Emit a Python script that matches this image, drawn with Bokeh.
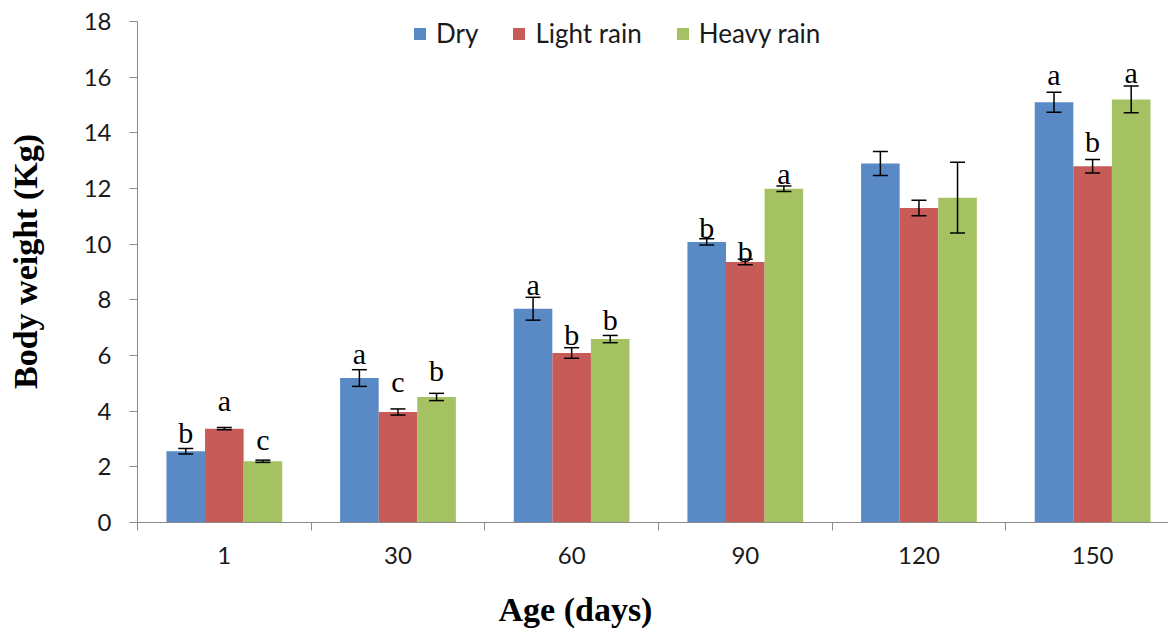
from bokeh.plotting import figure
from bokeh.models import (Range1d, FixedTicker, Whisker, TeeHead, ColumnDataSource,
                          Title, Legend, LegendItem)
from bokeh.core.properties import value
from bokeh.embed import file_html
from bokeh.resources import INLINE

# ---- data ----
ages = ["1", "30", "60", "90", "120", "150"]
series_names = ["Dry", "Light rain", "Heavy rain"]
dry = [2.56, 5.19, 7.68, 10.08, 12.90, 15.10]
dry_err = [0.10, 0.30, 0.41, 0.11, 0.43, 0.36]
light = [3.37, 3.97, 6.09, 9.36, 11.30, 12.80]
light_err = [0.04, 0.11, 0.19, 0.10, 0.28, 0.24]
heavy = [2.20, 4.51, 6.59, 11.99, 11.67, 15.20]
heavy_err = [0.04, 0.13, 0.13, 0.10, 1.27, 0.48]
dry_sig = ["b", "a", "a", "b", "", "a"]
light_sig = ["a", "c", "b", "b", "", "b"]
heavy_sig = ["c", "b", "b", "a", "", "a"]
dry_sig_y = [2.89, 5.71, 8.20, 10.23, 0, 15.73]
light_sig_y = [4.01, 4.69, 6.40, 9.39, 0, 13.34]
heavy_sig_y = [2.63, 5.11, 6.93, 12.19, 0, 15.82]
y_ticks = [0, 2, 4, 6, 8, 10, 12, 14, 16, 18]

colors = ["#5A8AC6", "#C65B57", "#A4C262"]
bar_w = 0.2222
offsets = [-bar_w, 0.0, bar_w]

p = figure(width=1168, height=632, output_backend="svg", toolbar_location=None,
           x_range=Range1d(0, 5.937), y_range=Range1d(0, 18.754),
           min_border_left=137, min_border_right=0, min_border_top=0,
           min_border_bottom=110)
p.outline_line_color = None
p.xgrid.visible = False
p.ygrid.visible = False
p.background_fill_color = "white"
p.border_fill_color = "white"

all_vals = [dry, light, heavy]
all_errs = [dry_err, light_err, heavy_err]
all_sig = [dry_sig, light_sig, heavy_sig]
all_sig_y = [dry_sig_y, light_sig_y, heavy_sig_y]

items = []
for k in range(3):
    xs = [i + 0.5 + offsets[k] for i in range(len(ages))]
    src = ColumnDataSource(dict(x=xs, top=all_vals[k],
                                upper=[v + e for v, e in zip(all_vals[k], all_errs[k])],
                                lower=[v - e for v, e in zip(all_vals[k], all_errs[k])]))
    r = p.vbar(x="x", top="top", width=bar_w, bottom=0, source=src,
               fill_color=colors[k], line_color=None)
    items.append(LegendItem(label=series_names[k], renderers=[r]))
    w = Whisker(source=src, base="x", upper="upper", lower="lower",
                line_color="black", line_width=1.5, level="annotation",
                upper_head=TeeHead(size=15, line_color="black", line_width=1.5),
                lower_head=TeeHead(size=15, line_color="black", line_width=1.5))
    p.add_layout(w)
    lx = [x for x, s in zip(xs, all_sig[k]) if s]
    ly = [y for y, s in zip(all_sig_y[k], all_sig[k]) if s]
    lt = [s for s in all_sig[k] if s]
    p.text(x=lx, y=ly, text=lt, text_align="center", text_baseline="alphabetic",
           y_offset=-10,
           text_font=value("Liberation Serif"), text_font_size="30px",
           text_color="black")

legend = Legend(items=items, orientation="horizontal", location=(275, 473),
                background_fill_alpha=0, border_line_color=None,
                glyph_width=15, glyph_height=15, label_standoff=9, spacing=33,
                padding=0, margin=0,
                label_text_font="Lato", label_text_font_size="26px",
                label_text_color="#1a1a1a")
p.add_layout(legend)

# y axis
ya = p.yaxis[0]
ya.bounds = (0, 18)
ya.ticker = FixedTicker(ticks=y_ticks, minor_ticks=[])
ya.axis_line_color = "#8c8c8c"
ya.major_tick_line_color = "#8c8c8c"
ya.major_tick_in = 0
ya.major_tick_out = 8
ya.minor_tick_line_color = None
ya.major_label_standoff = 18
ya.major_label_text_font = "Lato"
ya.major_label_text_font_size = "24px"
ya.major_label_text_color = "#1a1a1a"
ya.axis_label = "Body weight (Kg)"
ya.axis_label_text_font = "Liberation Serif"
ya.axis_label_text_font_style = "bold"
ya.axis_label_text_font_size = "34px"
ya.axis_label_text_color = "black"
ya.axis_label_standoff = 37

# x axis
xa = p.xaxis[0]
centers = [i + 0.5 for i in range(len(ages))]
xa.ticker = FixedTicker(ticks=centers, minor_ticks=list(range(len(ages) + 1)))
xa.major_label_overrides = {c: a for c, a in zip(centers, ages)}
xa.axis_line_color = "#8c8c8c"
xa.major_tick_line_color = None
xa.major_tick_in = 0
xa.major_tick_out = 0
xa.minor_tick_line_color = "#8c8c8c"
xa.minor_tick_in = 0
xa.minor_tick_out = 8
xa.major_label_standoff = 16
xa.major_label_text_font = "Lato"
xa.major_label_text_font_size = "24px"
xa.major_label_text_color = "#1a1a1a"

xt = Title(text="Age (days)", align="left", offset=361, standoff=0,
           padding=dict(left=0, right=0, top=22, bottom=0),
           text_font="Liberation Serif", text_font_style="bold",
           text_font_size="34px", text_color="black")
p.add_layout(xt, "below")

open("out.html", "w").write(file_html(p, INLINE))
